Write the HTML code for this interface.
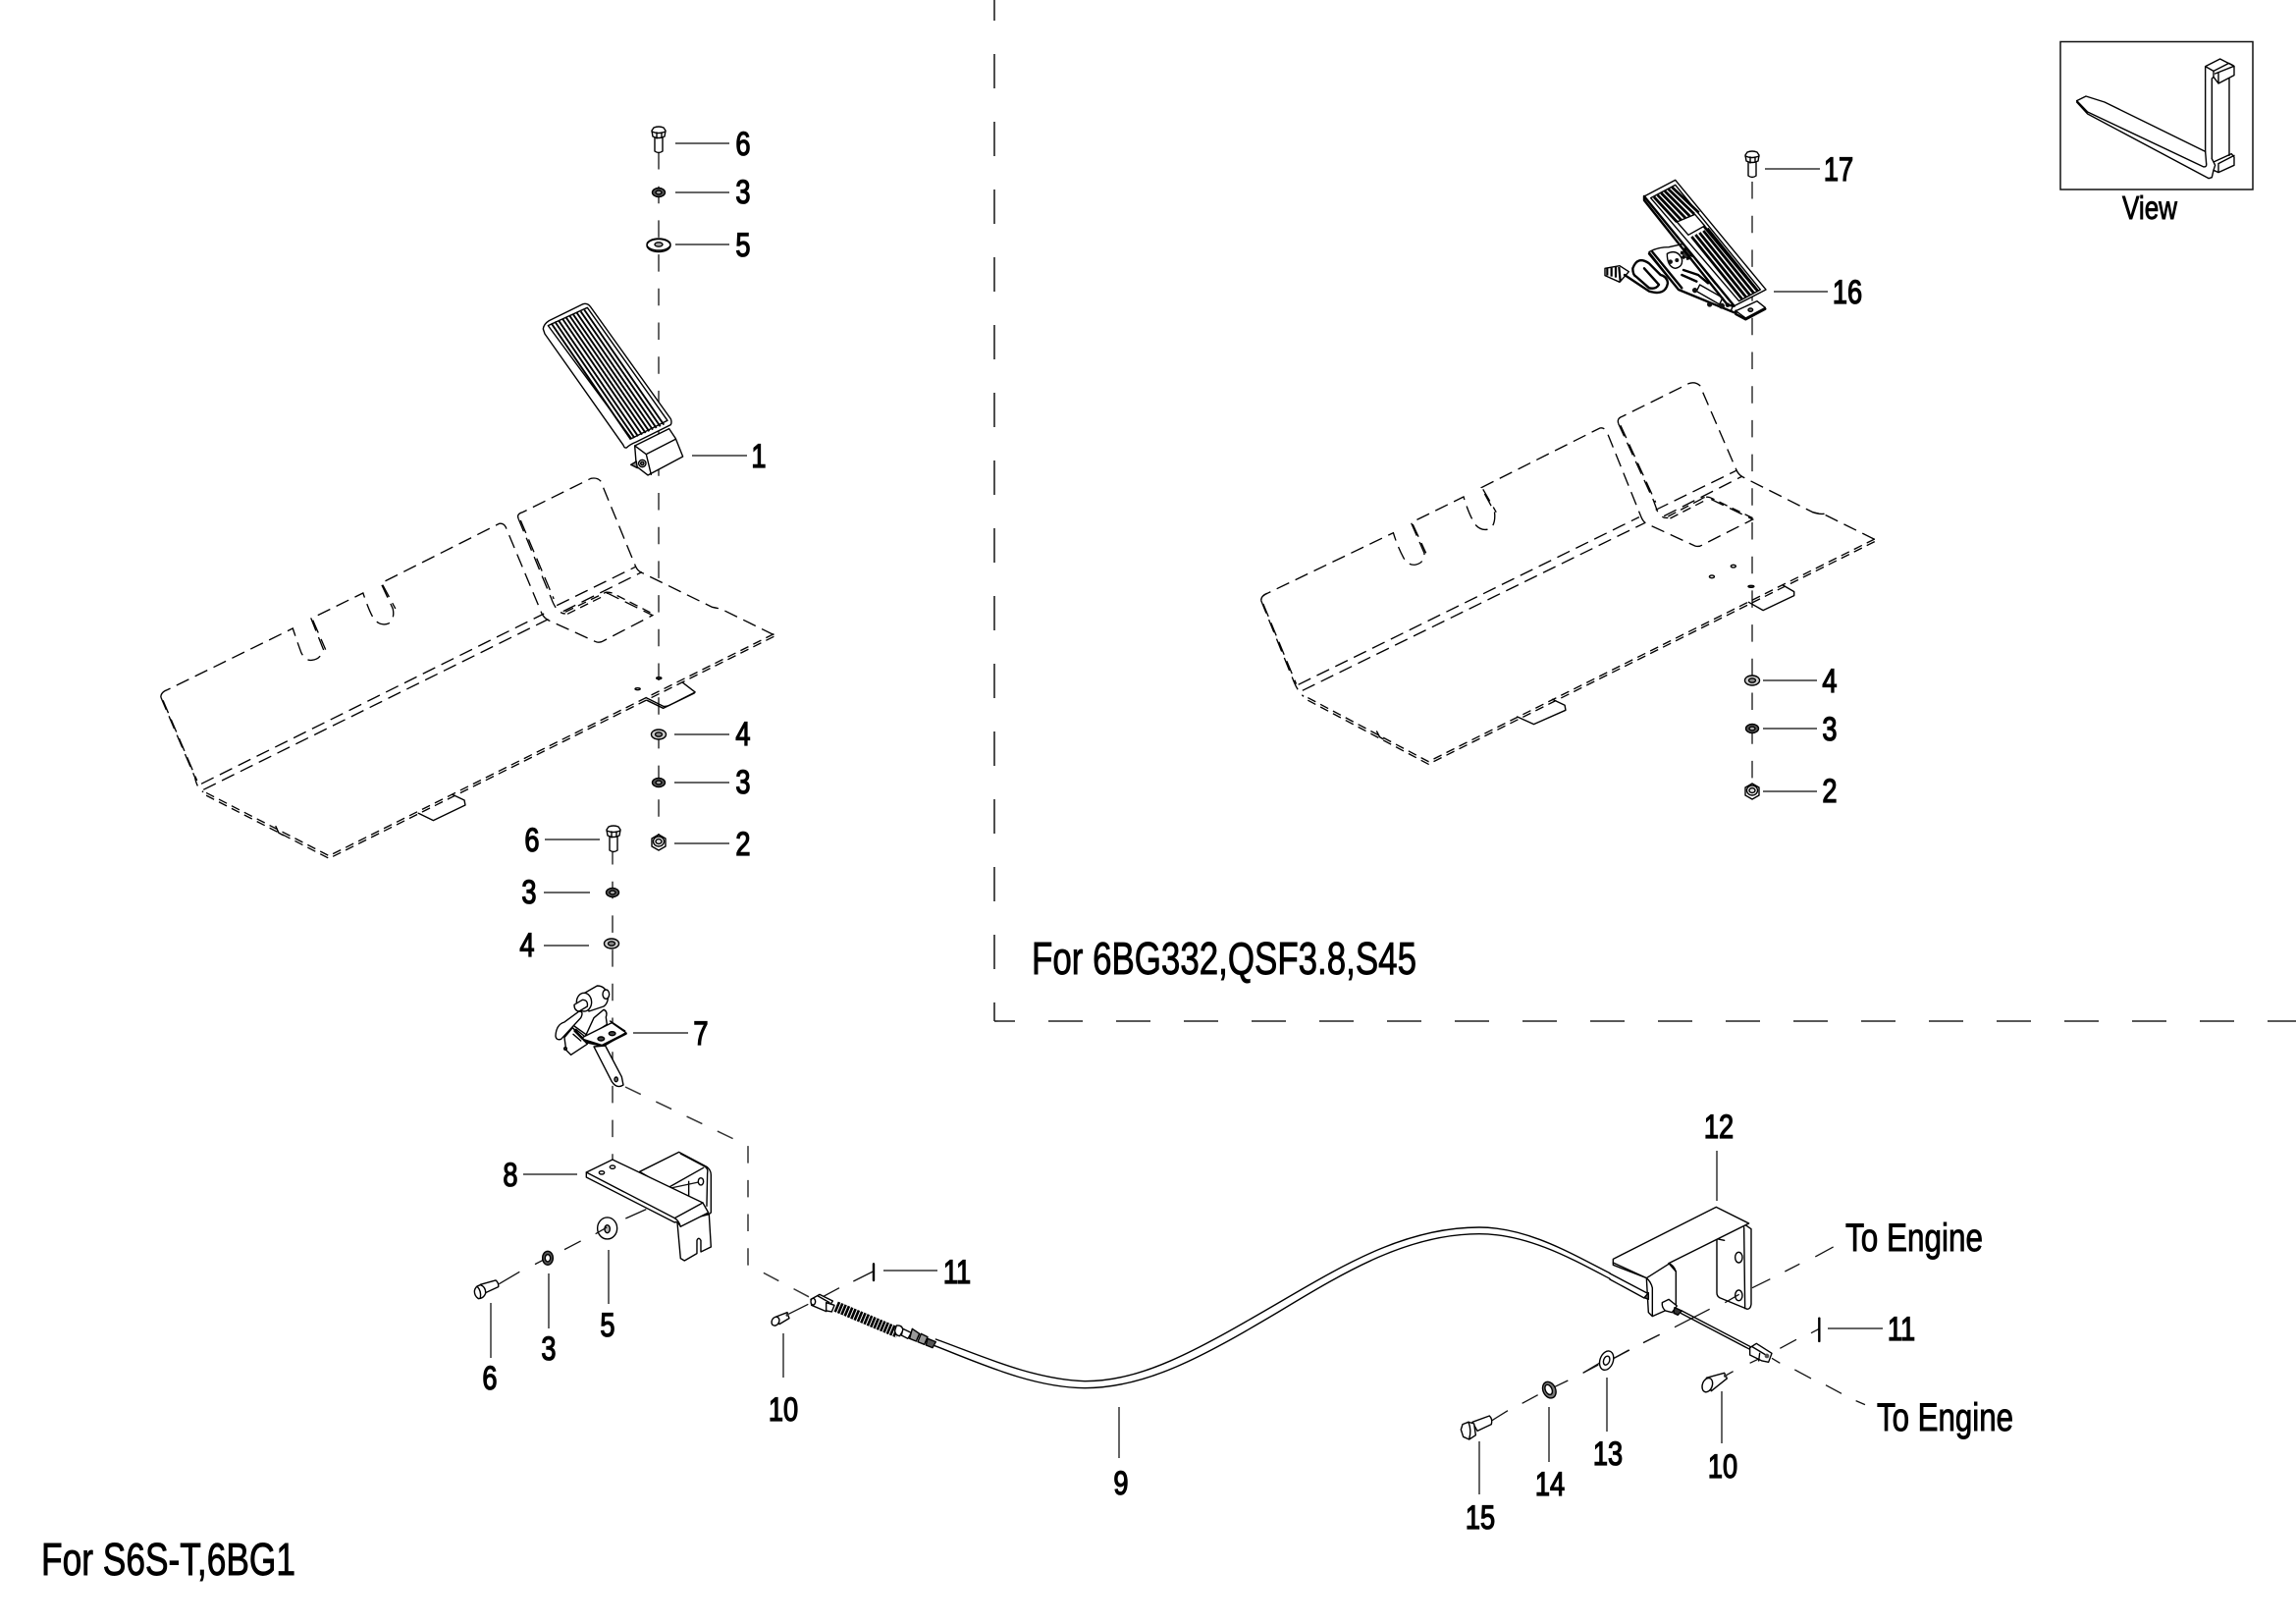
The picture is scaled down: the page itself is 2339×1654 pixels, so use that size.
<!DOCTYPE html>
<html><head><meta charset="utf-8"><style>
html,body{margin:0;padding:0;background:#fff}
svg{display:block}
svg *{vector-effect:non-scaling-stroke}
.d{fill:#fff;stroke:#000;stroke-width:1.4;stroke-linejoin:round;stroke-linecap:round}
.l{fill:none;stroke:#000;stroke-width:1.4;stroke-linecap:round;stroke-linejoin:round}
.b{fill:none;stroke:#000;stroke-width:2.4;stroke-linecap:round;stroke-linejoin:round}
.t{fill:none;stroke:#111;stroke-width:1.3;stroke-linecap:butt}
.ax{fill:none;stroke:#333;stroke-width:1.5;stroke-dasharray:17.5 17.2}
.ld{fill:none;stroke:#333;stroke-width:1.5}
.f{fill:none;stroke:#222;stroke-width:1.6;stroke-dasharray:35 34;stroke-dashoffset:14}
.p1{fill:none;stroke:#000;stroke-width:1.35;stroke-dasharray:14 7}
.p2{fill:none;stroke:#000;stroke-width:1.35;stroke-dasharray:9 5.5}
text{font-family:"Liberation Sans",sans-serif;fill:#000}
.n{font-size:34px;text-anchor:middle;stroke:#000;stroke-width:1.2}
.c{stroke:#000;stroke-width:.9}
</style></head><body>
<svg xmlns="http://www.w3.org/2000/svg" width="2339" height="1654" viewBox="0 0 2339 1654">
<defs>
<g id="bv">
<path class="d" d="M-4 8V24Q0 27 4 24V8Z"/>
<path class="d" d="M-7 3L-5 0Q0-2 5 0L7 3L6 9Q0 12-6 9Z"/>
<path class="l" d="M-7 4Q0 7 7 4M-2 5V11M3 5V10"/>
</g>
<g id="w3"><ellipse class="d" cx="0" cy="0" rx="6.5" ry="4.5" style="fill:#555"/><ellipse class="d" cx="0" cy="0" rx="3" ry="1.9" style="fill:#aaa"/></g>
<g id="w4"><ellipse class="d" cx="0" cy="0" rx="7.5" ry="5" style="fill:#ccc"/><ellipse class="d" cx="0" cy="0" rx="3.5" ry="2.2" style="fill:#888"/></g>
<g id="w5"><ellipse class="d" cx="0" cy="1" rx="12" ry="6.5"/><ellipse class="l" cx="0" cy="0" rx="12" ry="6"/><ellipse class="d" cx="0" cy="0" rx="4" ry="2.2" style="fill:#aaa"/></g>
<g id="nut"><path class="d" d="M-7-4L0-8L7-4V4L0 8L-7 4Z"/><ellipse class="d" cx="0" cy="-1" rx="5.5" ry="5"/><ellipse class="d" cx="0" cy="-1" rx="3" ry="2.5" style="fill:#ddd"/></g>
</defs>

<!-- frame -->
<path class="f" d="M1013 0V1040"/>
<path class="f" d="M1013 1040H2339"/>

<!-- axes -->
<path class="ax" d="M671 155V850"/>
<path class="ax" d="M624 863V1193"/>
<path class="ax" d="M1785 185V800"/>
<path class="ax" d="M637 1107L762 1167V1288L830 1324"/>

<!-- left panel -->
<g transform="translate(140 470) scale(.4337 .3333)">
<path class="p1" d="M55 720Q55 705 70 698L365 510Q375 550 385 585Q395 610 410 607Q430 605 437 575L408 480L530 402Q545 460 555 480Q570 505 590 495Q605 480 600 450L572 372L850 190Q860 188 865 200L950 465Q955 478 965 485L1075 550Q1085 556 1095 548L1210 470L1105 403Q1098 400 1090 408"/>
<path class="p1" d="M55 720L135 965Q140 1000 155 1010"/>
<path class="p1" d="M895 175Q890 160 905 155L1065 52Q1080 48 1088 60L1170 320Q1175 335 1185 340L1350 445Q1360 448 1370 450L1495 530"/>
<path class="p1" d="M895 175L972 418Q985 465 1005 465"/>
<path class="p1" d="M60 730L140 975M900 180L978 420M412 485L442 575M576 377L606 450"/>
<path class="p1" d="M150 985L955 465M155 1003L965 482M985 440L1170 322M1000 458L1185 338"/>
<path class="p2" d="M1005 460L1100 400Q1110 398 1120 405L1210 465"/>
<path class="p2" d="M1010 466L1100 408"/>
<path class="p2" d="M1495 527L450 1205L155 1008"/>
<path class="p2" d="M1495 535L450 1213L155 1016"/>
<path class="l" d="M1195 722L1235 748Q1240 750 1250 745L1310 705L1280 675M1197 730L1235 754L1308 708"/>
<path class="l" d="M660 1075L695 1097L770 1050L768 1035L740 1018"/>
<path class="l" d="M325 1115L332 1135L342 1142"/>
<ellipse class="d" cx="1225" cy="662" rx="6" ry="3" style="fill:#555"/>
<ellipse class="d" cx="1175" cy="695" rx="6" ry="3"/>
</g>

<!-- right panel -->
<g transform="translate(1270 380) scale(.4209 .3333)">
<path class="p1" d="M35 695Q35 680 50 673L355 488Q365 530 380 565Q392 590 410 585Q430 580 430 550L398 457L525 378Q540 440 555 465Q570 485 590 475Q603 460 600 425L568 350L855 168Q865 165 872 180L955 440Q960 455 968 460L1085 528Q1095 532 1103 525L1225 447L1115 380Q1108 377 1100 385"/>
<path class="p1" d="M35 695L115 945Q125 975 138 988"/>
<path class="p1" d="M900 155Q895 138 910 132L1070 32Q1085 25 1097 38L1185 295Q1190 310 1200 317L1370 425Q1385 430 1395 430L1523 510"/>
<path class="p1" d="M900 155L985 390L995 425Q1005 445 1020 442"/>
<path class="p1" d="M40 705L120 950M905 160L990 395M402 462L434 550M572 355L604 425"/>
<path class="p1" d="M125 952L950 440M135 970L965 457M990 418L1185 298M1010 437L1200 315"/>
<path class="p2" d="M1020 438L1105 382Q1115 375 1125 382L1225 443"/>
<path class="p2" d="M1025 444L1108 390"/>
<path class="p2" d="M1520 507L440 1187L138 985"/>
<path class="p2" d="M1520 515L440 1195L138 993"/>
<path class="l" d="M1215 700L1250 725L1325 680L1325 668L1298 648"/>
<path class="l" d="M655 1050L695 1073L772 1030L770 1015L740 997"/>
<path class="l" d="M315 1095L322 1112L330 1118M1370 425Q1385 432 1397 430"/>
<ellipse class="d" cx="1178" cy="590" rx="6" ry="4"/>
<ellipse class="d" cx="1126" cy="622" rx="6" ry="4"/>
<ellipse class="d" cx="1221" cy="652" rx="7" ry="3" style="fill:#444"/>
</g>

<!-- pedal 1 -->
<g transform="translate(500 100) scale(.3333)">
<path class="d" d="M160 705Q162 690 178 680L282 629Q296 625 305 638L550 980Q554 990 550 998L445 1050Q425 1058 415 1068Q408 1070 405 1060L165 720Z"/>
<path class="l" d="M175 695L295 640L540 985L430 1040Z"/>
<g fill="none" stroke="#000" stroke-width="1.9">
<path d="M185 688L428 1043M196 683L439 1038M207 679L450 1033M219 674L462 1028M230 670L473 1023M241 665L484 1018M252 661L495 1013M263 656L506 1008M275 652L518 1003M286 647L529 998"/>
</g>
<path class="d" d="M440 1062L545 1010L565 1040L587 1095L480 1152L445 1125Z"/>
<path class="l" d="M440 1062L475 1088L565 1042M475 1088L490 1150"/>
<path class="d" d="M428 1120L445 1110L448 1130Z" style="fill:#888"/>
<circle class="d" cx="463" cy="1116" r="11"/>
<circle class="d" cx="463" cy="1116" r="5" style="fill:#888"/>
</g>

<!-- fasteners left -->
<use href="#bv" x="671" y="130"/>
<use href="#w3" x="671" y="196"/>
<use href="#w5" x="671" y="249"/>
<use href="#w4" x="671" y="748"/>
<use href="#w3" x="671" y="797"/>
<use href="#nut" x="671" y="858"/>
<use href="#bv" x="625" y="842"/>
<use href="#w3" x="624" y="909"/>
<use href="#w4" x="623" y="961"/>

<!-- item 7, 8, left bolts -->
<g transform="translate(480 980) scale(.3333)">
<path class="d" d="M345 95L385 72Q410 72 418 100Q420 125 405 135L360 150Z"/>
<ellipse class="d" cx="412" cy="98" rx="10" ry="14"/>
<ellipse class="d" cx="345" cy="122" rx="23" ry="28"/>
<path class="d" d="M315 130L340 115Q358 115 355 135L330 150Q315 148 315 130Z"/>
<path class="d" d="M375 170L405 145Q418 150 412 168L415 190L345 235Z"/>
<path class="d" d="M258 225Q260 190 285 183L330 150Q345 150 335 170L275 235Q260 240 258 225Z"/>
<path class="d" d="M285 230L310 200L355 250L305 283L290 268Z"/>
<path class="l" d="M310 200L345 235M315 195L350 220M320 205L345 225M315 210L340 235M312 220L335 240M425 180L470 210"/>
<path class="d" d="M340 230L430 185L473 215L405 257L350 245Z"/>
<path class="b" d="M345 238L400 255L473 218"/>
<ellipse class="d" cx="431" cy="218" rx="10" ry="6" style="fill:#444"/>
<ellipse class="d" cx="397" cy="234" rx="10" ry="6" style="fill:#444"/>
<path class="d" d="M375 258L430 365Q445 388 465 375L460 350L410 255Z"/>
<ellipse class="d" cx="443" cy="358" rx="5" ry="7" style="fill:#777"/>
<circle class="d" cx="288" cy="264" r="4" style="fill:#555"/>

<path class="d" d="M515 640L635 580L720 625Q733 635 733 650V765L727 770L600 690Z"/>
<path class="l" d="M640 585L715 625Q725 632 722 645L720 745M600 690L710 628M665 670V720"/>
<path class="t" d="M610 690L695 672"/>
<ellipse class="d" cx="702" cy="670" rx="8" ry="11"/>
<path class="d" d="M630 795L640 905L652 912L690 890V850Q695 838 702 850V885L733 870L727 770L650 790Z"/>
<path class="d" d="M352 642L432 603L708 735L725 765L640 808Q630 790 622 795L352 657Z"/>
<path class="l" d="M352 642L622 782Q635 790 640 808M622 782L708 735"/>
<ellipse class="d" cx="432" cy="626" rx="8" ry="5"/>
<ellipse class="d" cx="399" cy="643" rx="8" ry="5"/>
<path class="t" d="M472 783L535 755"/>
<ellipse class="d" cx="416" cy="813" rx="30" ry="33"/>
<ellipse class="d" cx="416" cy="815" rx="8" ry="12" style="fill:#bbb"/>
<path class="t" d="M380 830L415 810M285 878L335 852M195 923L220 910M85 983L148 946"/>
<ellipse class="d" cx="234" cy="904" rx="16" ry="21" style="fill:#555"/>
<ellipse class="d" cx="234" cy="904" rx="8" ry="11"/>
<path class="d" d="M28 985L75 972Q85 980 83 992L40 1012Z"/>
<path class="d" d="M10 1005Q12 990 28 986Q45 992 44 1012Q38 1028 22 1028Q10 1020 10 1005Z"/>
<path class="l" d="M18 990Q32 1005 28 1026"/>
</g>

<!-- cable -->
<g transform="translate(940 1230) scale(.4464 .3333)">
<path class="l" d="M30 402C130 450 250 525 370 530C500 530 620 440 800 300C960 175 1100 60 1270 60C1380 60 1480 140 1568 200"/>
<path class="l" d="M20 418C130 475 250 550 370 551C510 551 640 455 810 320C970 190 1110 80 1270 80C1380 80 1480 155 1568 217"/>
</g>
<path class="l" d="M1640 1297L1678 1317M1640 1303L1675 1322"/>

<!-- cable end left -->
<g transform="translate(770 1270) scale(.3333)">
<path class="t" d="M298 105L358 75M190 160L255 125M100 205L160 175"/>
<path class="d" d="M168 160L195 145L235 165L215 197L170 178Z"/>
<path class="l" d="M190 150L225 170"/>
<ellipse class="d" cx="175" cy="167" rx="7" ry="10"/>
<path class="d" d="M215 170L240 178L232 198L215 195Z"/>
<path d="M245 182L435 262" fill="none" stroke="#000" stroke-width="11" stroke-dasharray="2.6 1"/>
<path class="d" d="M430 240Q448 238 450 255L440 272Q425 270 425 255Z"/>
<path class="d" d="M450 250L475 262L465 280L445 270Z"/>
<path class="d" d="M478 250L500 265L490 288L470 280Z" style="fill:#999"/>
<path class="d" d="M505 265L525 275L515 298L495 290Z" style="fill:#999"/>
<path class="d" d="M525 280L550 290L540 308L520 300Z" style="fill:#555"/>
<path class="b" d="M360 52V102"/>
<path class="d" d="M62 213L96 200L102 218L72 236Z"/>
<ellipse class="d" cx="60" cy="227" rx="11" ry="14" transform="rotate(30 60 227)"/>
<circle cx="96" cy="208" r="4.5" fill="#333"/>
</g>

<!-- pedal 16 -->
<g transform="translate(1600 140) scale(.3333)">
<path class="d" d="M105 400L150 392L178 410L150 442L105 422Z"/>
<g fill="none" stroke="#000" stroke-width="2.2">
<path d="M112 400V422M125 398V425M138 396V428M148 396L152 440"/>
</g>
<path class="b" d="M165 420L240 470Q290 485 297 445Q295 425 275 420L240 385Q205 360 190 400Q190 420 200 425L240 460Q260 465 270 450L225 400"/>
<path class="d" d="M240 350Q265 335 300 335L345 325L440 445L500 505L490 530L330 465Z"/>
<path class="b" d="M240 355L330 465L500 535M250 350L340 460"/>
<path class="d" d="M295 355Q325 340 340 370Q345 395 320 400Q295 395 295 355Z"/>
<circle cx="305" cy="380" r="7" fill="#111"/><circle cx="325" cy="375" r="6" fill="#111"/>
<circle cx="355" cy="355" r="15" fill="#333" stroke="#000" stroke-width="3" stroke-dasharray="3 2"/>
<path class="b" d="M345 405L390 420L420 445M340 420L385 440"/>
<path class="d" d="M395 450L465 490L455 510L385 470Z"/>
<circle cx="380" cy="467" r="8" fill="#111"/><circle cx="425" cy="510" r="8" fill="#111"/><circle cx="462" cy="515" r="9" fill="#111"/><circle cx="480" cy="512" r="7" fill="#111"/>
<path class="d" d="M505 530L570 500L595 520L535 552Z"/>
<path class="b" d="M505 530V540L535 556L595 524"/>
<ellipse class="d" cx="550" cy="527" rx="7" ry="5" style="fill:#777"/>
<path class="d" d="M225 180L320 130L597 465L500 515Z"/>
<path class="b" d="M225 180V192L480 512L500 515M225 180L500 515"/>
<path class="l" d="M245 185L320 145L580 465L515 500Z"/>
<g fill="none" stroke="#000" stroke-width="2.8">
<path d="M255 182L325 258M266 176L338 252M277 170L351 246M288 164L364 240M299 158L378 234M310 152L392 230"/>
<path d="M370 303L525 495M382 297L537 489M394 291L549 483M406 285L561 477M418 278L573 470M408 272L568 465"/>
</g>
<path class="d" d="M325 258L380 235L410 270L360 298Z"/>
</g>
<use href="#bv" x="1785" y="155"/>
<use href="#w4" x="1785" y="693"/>
<use href="#w3" x="1785" y="742"/>
<use href="#nut" x="1785" y="806"/>

<!-- bracket 12 -->
<g transform="translate(1600 1180) scale(.3333)">
<path class="d" d="M300 320L530 200L552 215V445Q550 460 540 460L455 425Q447 420 447 410V245Z"/>
<path class="l" d="M530 210L533 458M447 245L470 250"/>
<ellipse class="d" cx="514" cy="302" rx="11" ry="16"/><ellipse class="d" cx="514" cy="418" rx="11" ry="16"/>
<path class="d" d="M130 307L445 148L545 198L300 320L322 345V450L250 482L238 470L232 365L130 325Z"/>
<path class="l" d="M130 318L232 365L300 322M232 365Q245 375 250 395V480M322 345Q315 325 300 320"/>
<path class="d" d="M225 425L238 410V430Z" style="fill:#555"/>
<path class="t" d="M555 395L610 368M655 345L700 322M748 300L803 270M472 440L515 415M318 515L425 460M222 563L272 538M132 610L178 585M38 655L88 625M548 625L590 605M640 580L690 553M735 533L760 520M615 610L640 625M685 645L735 672M780 692L828 718M872 740L900 752M497 650L470 665"/>
<path class="d" d="M280 440L300 430L325 450L310 470L290 465Q278 455 280 440Z"/>
<path class="d" d="M318 455L340 465L328 478L315 472Z" style="fill:#333"/>
<path class="l" d="M340 465L550 575M338 473L548 583"/>
<path class="d" d="M548 578L568 565L615 595L605 622L585 618L548 600Z"/>
<path class="l" d="M555 575L600 602M578 595L575 618"/>
<circle cx="600" cy="603" r="7" fill="#555"/>
<path class="b" d="M760 488V558"/>
<circle cx="760" cy="488" r="3" fill="#000"/><circle cx="760" cy="558" r="3" fill="#000"/>
<path class="d" d="M415 670L470 655L478 672L430 710Z"/>
<ellipse class="d" cx="418" cy="692" rx="15" ry="22" transform="rotate(20 418 692)"/>
<circle cx="473" cy="664" r="5" fill="#333"/>
</g>
<!-- 13/14/15 -->
<g transform="translate(1460 1350) scale(.3333)">
<path class="t" d="M180 290L228 260M272 238L320 212M370 188L412 168M458 145L505 120M553 100L600 75M643 52L692 28"/>
<ellipse class="d" cx="530" cy="107" rx="20" ry="30" transform="rotate(20 530 107)"/>
<ellipse class="d" cx="530" cy="107" rx="9" ry="14" transform="rotate(20 530 107)"/>
<ellipse class="d" cx="355" cy="197" rx="19" ry="26" transform="rotate(-25 355 197)" style="fill:#777"/>
<ellipse class="d" cx="353" cy="196" rx="10" ry="16" transform="rotate(-25 353 196)"/>
<path class="d" d="M120 295L172 276Q182 285 178 302L135 322Z"/>
<path class="d" d="M85 318L90 302L108 295L125 300L130 335L110 348L92 340Z"/>
<path class="l" d="M108 295Q118 320 110 347"/>
</g>

<!-- View box -->
<rect x="2099" y="42.5" width="196" height="150.5" fill="#fff" stroke="#111" stroke-width="1.5"/>
<g transform="translate(2080 30) scale(.3333)">
<path class="l" d="M107 218L135 204L192 222L500 373V113L545 90L588 112V140L540 165L525 145L520 150V395M500 113L525 127V145M525 127L572 103L585 110M530 135L588 112M540 132V165M573 150V385"/>
<path class="l" d="M107 218L140 252L495 420Q505 420 503 410L500 373M107 222L140 258L510 455L520 452L525 430L540 437L588 415V390L580 380L525 405L530 415L525 430M525 405L520 395M540 410V437M540 410L588 385"/>
</g>

<!-- leaders -->
<path class="ld" d="M688 146H743M688 196H743M688 249H743M705 464H761M687 748H743M687 797H743M687 859H743M555 855H611M554 909H601M554 963H600M645 1052H701M533 1196H588M620 1273V1328M559 1297V1353M500 1327V1383M798 1358V1403M900 1294H955M1140 1433V1485M1749 1172V1223M1862 1353H1918M1754 1417V1470M1637 1403V1458M1578 1433V1489M1507 1468V1522M1798 172H1854M1807 297H1862M1796 693H1851M1796 742H1851M1796 806H1851"/>

<!-- labels -->
<g>
<text class="n" transform="translate(757 158) scale(.8 1)">6</text>
<text class="n" transform="translate(757 207) scale(.8 1)">3</text>
<text class="n" transform="translate(757 261) scale(.8 1)">5</text>
<text class="n" transform="translate(773 476) scale(.8 1)">1</text>
<text class="n" transform="translate(757 759) scale(.8 1)">4</text>
<text class="n" transform="translate(757 808) scale(.8 1)">3</text>
<text class="n" transform="translate(757 871) scale(.8 1)">2</text>
<text class="n" transform="translate(542 867) scale(.8 1)">6</text>
<text class="n" transform="translate(539 920) scale(.8 1)">3</text>
<text class="n" transform="translate(537 974) scale(.8 1)">4</text>
<text class="n" transform="translate(714 1064) scale(.8 1)">7</text>
<text class="n" transform="translate(520 1208) scale(.8 1)">8</text>
<text class="n" transform="translate(619 1361) scale(.8 1)">5</text>
<text class="n" transform="translate(559 1385) scale(.8 1)">3</text>
<text class="n" transform="translate(499 1415) scale(.8 1)">6</text>
<text class="n" transform="translate(798 1447) scale(.8 1)">10</text>
<text class="n" transform="translate(975 1307) scale(.8 1)">11</text>
<text class="n" transform="translate(1142 1522) scale(.8 1)">9</text>
<text class="n" transform="translate(1751 1159) scale(.8 1)">12</text>
<text class="n" transform="translate(1937 1365) scale(.8 1)">11</text>
<text class="n" transform="translate(1755 1505) scale(.8 1)">10</text>
<text class="n" transform="translate(1638 1492) scale(.8 1)">13</text>
<text class="n" transform="translate(1579 1523) scale(.8 1)">14</text>
<text class="n" transform="translate(1508 1557) scale(.8 1)">15</text>
<text class="n" transform="translate(1873 184) scale(.8 1)">17</text>
<text class="n" transform="translate(1882 309) scale(.8 1)">16</text>
<text class="n" transform="translate(1864 705) scale(.8 1)">4</text>
<text class="n" transform="translate(1864 754) scale(.8 1)">3</text>
<text class="n" transform="translate(1864 817) scale(.8 1)">2</text>
</g>
<text class="c" x="1880" y="1274" font-size="40" textLength="140" lengthAdjust="spacingAndGlyphs">To Engine</text>
<text class="c" x="1912" y="1457" font-size="40" textLength="139" lengthAdjust="spacingAndGlyphs">To Engine</text>
<text class="c" x="2162" y="223" font-size="33" textLength="56" lengthAdjust="spacingAndGlyphs">View</text>
<text class="c" x="1051" y="992" font-size="46" textLength="392" lengthAdjust="spacingAndGlyphs">For 6BG332,QSF3.8,S45</text>
<text class="c" x="42" y="1604" font-size="46" textLength="259" lengthAdjust="spacingAndGlyphs">For S6S-T,6BG1</text>
</svg>
</body></html>
